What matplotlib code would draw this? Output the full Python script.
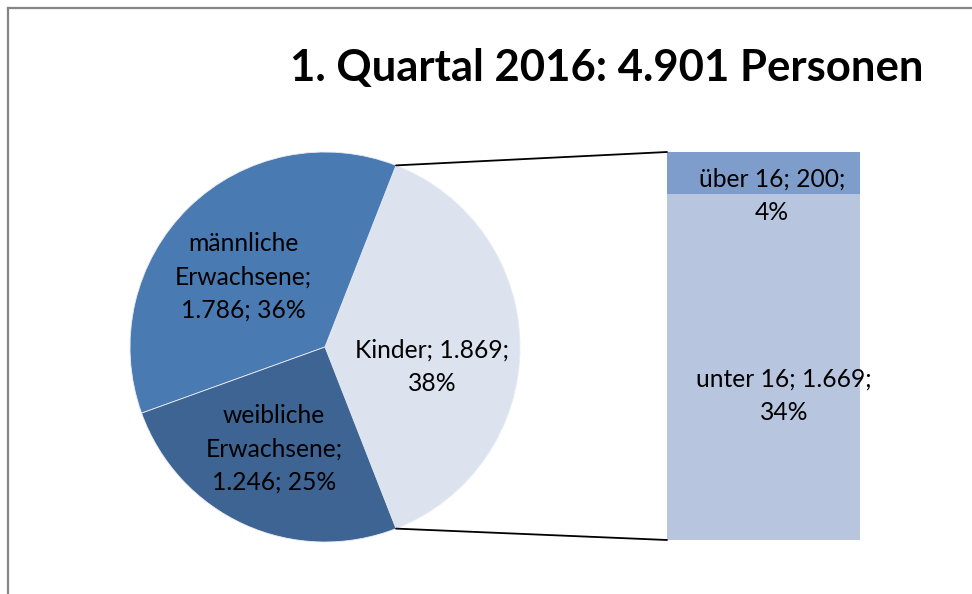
import matplotlib
matplotlib.use('Agg')
import matplotlib.pyplot as plt
from matplotlib.patches import ConnectionPatch
from matplotlib.lines import Line2D
import numpy as np

# ---- data ----
categories = ['Kinder', 'männliche\nErwachsene', 'weibliche\nErwachsene']
values = [1869, 1786, 1246]
sub_categories = ['unter 16', 'über 16']
sub_values = [1669, 200]
title = '1. Quartal 2016: 4.901 Personen'

pie_colors = ['#DCE3EF', '#4A7AB2', '#3D6493']
bar_colors = ['#B7C5DF', '#7F9DCB']

plt.rcParams['font.family'] = ['Lato', 'DejaVu Sans']

W, H = 972, 594
fig = plt.figure(figsize=(W / 100, H / 100), dpi=100)


def box(x0, y0, x1, y1):
    return [x0 / W, 1 - y1 / H, (x1 - x0) / W, (y1 - y0) / H]


def fmt(v):
    return f'{v:,}'.replace(',', '.')


total = sum(values)
pcts = [round(v / total * 100) for v in values]
sub_pcts = [round(v / total * 100) for v in sub_values]

# ---- pie ----
ax_pie = fig.add_axes(box(130, 152, 520, 542))
kinder_angle = values[0] / total * 360
start = -kinder_angle / 2
wedges, _ = ax_pie.pie(values, colors=pie_colors, startangle=start,
                       counterclock=True, radius=1,
                       wedgeprops=dict(linewidth=0.6, edgecolor='#E8ECF4'))
ax_pie.set_xlim(-1, 1)
ax_pie.set_ylim(-1, 1)
ax_pie.set_aspect('equal')
ax_pie.axis('off')

renderer = fig.canvas.get_renderer()

# label font size fitted so "Kinder; 1.869;" is ~154px wide
probe = fig.text(0, 0, 'Kinder; 1.869;', fontsize=10)
w10 = probe.get_window_extent(renderer).width
probe.remove()
lfs = 10 * 154 / w10
LS = 1.55

pie_labels = [
    f'{categories[0]}; {fmt(values[0])};\n{pcts[0]}%',
    f'{categories[1]};\n{fmt(values[1])}; {pcts[1]}%',
    f'{categories[2]};\n{fmt(values[2])}; {pcts[2]}%',
]
label_pos = [(432, 367), (243, 277), (274, 449)]
for lab, (px, py) in zip(pie_labels, label_pos):
    x = (px - 325) / 195
    y = -(py - 347) / 195
    ax_pie.text(x, y, lab, ha='center', va='center', fontsize=lfs,
                linespacing=LS, color='#000000')

# ---- bar ----
ax_bar = fig.add_axes(box(667, 152, 860, 540))
sub_total = sum(sub_values)
bottom = 0
for v, c in zip(sub_values, bar_colors):
    ax_bar.bar(0, v, width=1, bottom=bottom, color=c, linewidth=0)
    bottom += v
ax_bar.set_xlim(-0.5, 0.5)
ax_bar.set_ylim(0, sub_total)
ax_bar.axis('off')

bar_labels = [f'{sub_categories[0]}; {fmt(sub_values[0])};\n{sub_pcts[0]}%',
              f'{sub_categories[1]}; {fmt(sub_values[1])};\n{sub_pcts[1]}%']
bar_label_pos = [(784, 396), (772, 196)]
for lab, (px, py) in zip(bar_labels, bar_label_pos):
    fx = (px - 667) / 193 - 0.5
    fy = (540 - py) / 388 * sub_total
    ax_bar.text(fx, fy, lab, ha='center', va='center', fontsize=lfs,
                linespacing=LS, color='#000000', clip_on=False)

# ---- connectors ----
th_top = np.deg2rad(start + kinder_angle)
th_bot = np.deg2rad(start)
for th, yb in [(th_top, sub_total), (th_bot, 0)]:
    con = ConnectionPatch(xyA=(np.cos(th), np.sin(th)), coordsA=ax_pie.transData,
                          xyB=(-0.5, yb), coordsB=ax_bar.transData,
                          color='black', linewidth=1.3)
    fig.add_artist(con)

# ---- title ----
probe = fig.text(0, 0, title, fontsize=10, fontweight='bold')
tw10 = probe.get_window_extent(renderer).width
probe.remove()
tfs = 10 * 635 / tw10
fig.text(607 / W, 1 - 68 / H, title, ha='center', va='center',
         fontsize=tfs, fontweight='bold', color='#000000')

# ---- outer border ----
fig.add_artist(Line2D([8 / W, 1], [1 - 8 / H, 1 - 8 / H], color='#868686',
                      linewidth=1.6, transform=fig.transFigure))
fig.add_artist(Line2D([8 / W, 8 / W], [0, 1 - 8 / H], color='#868686',
                      linewidth=1.6, transform=fig.transFigure))

fig.savefig('out.png', dpi=100, facecolor='white')
